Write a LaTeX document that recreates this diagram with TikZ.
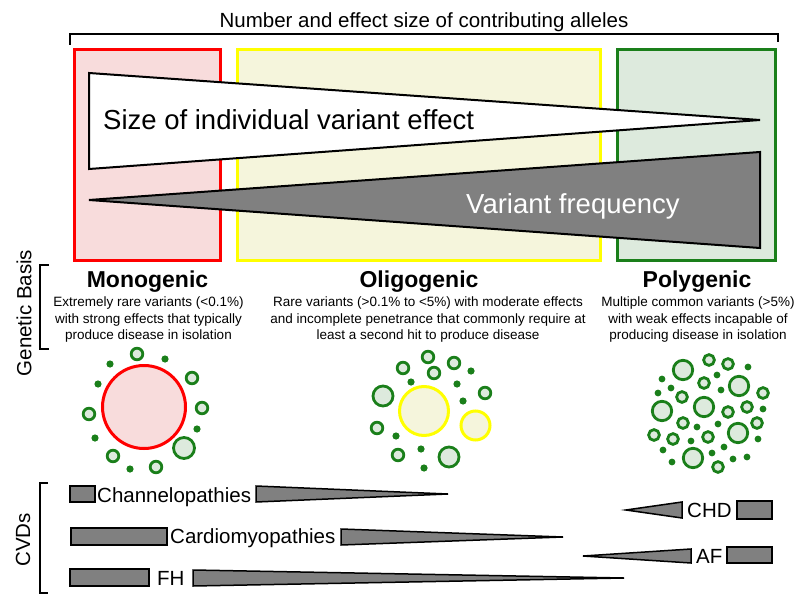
\documentclass[tikz,border=0pt]{standalone}
\usepackage{fontspec}
\setmainfont{Liberation Sans}
\usetikzlibrary{positioning}
\definecolor{Mc}{HTML}{FF0000}
\definecolor{Mf}{HTML}{F8DCDC}
\definecolor{Oc}{HTML}{FFFF00}
\definecolor{Of}{HTML}{F5F5DC}
\definecolor{Pc}{HTML}{1A7F1A}
\definecolor{Pf}{HTML}{DDEADD}
\definecolor{Wg}{HTML}{808080}
\tikzset{
  zone/.style={line width=3pt},
  bigwedge/.style={draw=black, line width=2pt, line join=miter},
  cvdbar/.style={draw=black, fill=Wg, line width=1.5pt},
  brack/.style={draw=black, line width=1.5pt},
  ring/.style={draw=Pc, fill=Pf, line width=2.8pt},
  seed/.style={fill=Pc},
  lbl/.style={inner sep=0pt, font=\fontsize{20.5}{24}\selectfont},
  big/.style={inner sep=0pt, font=\fontsize{27.5}{32}\selectfont},
  head/.style={inner sep=0pt, font=\fontsize{23}{26}\selectfont\bfseries},
  desc/.style={inner sep=0pt, align=center, font=\fontsize{13.5}{16.5}\selectfont},
}
\begin{document}
\begin{tikzpicture}[x=1pt, y=-1pt]
  \useasboundingbox (0,0) rectangle (800,615);
  % classes of genetic basis
  \draw[zone, draw=Mc, fill=Mf] (74,50) rectangle (220,260);
  \draw[zone, draw=Oc, fill=Of] (237,50) rectangle (600,260);
  \draw[zone, draw=Pc, fill=Pf] (617,50) rectangle (775,260);
  \draw[bigwedge, fill=white] (89,73) -- (89,169) -- (760,120) -- cycle;
  \draw[bigwedge, fill=Wg] (89,200) -- (760,152) -- (760,248) -- cycle;
  \node[big, anchor=base west] (effect) at (103,129) {Size of individual variant effect};
  \node[big, anchor=base west, text=white] (freq) at (466,213) {Variant frequency};
  \draw[brack] (70,45) -- (70,34) -- (778,34) -- (778,42);
  \node[lbl, anchor=base] (alleles) at (424,28) {Number and effect size of contributing alleles};
  % genetic basis
  \draw[brack] (49,265) -- (40,265) -- (40,349) -- (49,349);
  \node[lbl, rotate=90] (basis) at (24,313) {Genetic Basis};
  \node[head, anchor=base] (mono) at (147.5,287) {Monogenic};
  \node[head, anchor=base] (oligo) at (419,287) {Oligogenic};
  \node[head, anchor=base] (poly) at (697,287) {Polygenic};
  \node[desc, anchor=north] (monotxt) at (148.5,297) {Extremely rare variants (<0.1\%)\\with strong effects that typically\\produce disease in isolation};
  \node[desc, anchor=north] (oligotxt) at (428,297) {Rare variants (>0.1\% to <5\%) with moderate effects\\and incomplete penetrance that commonly require at\\least a second hit to produce disease};
  \node[desc, anchor=north] (polytxt) at (698,297) {Multiple common variants (>5\%)\\with weak effects incapable of\\producing disease in isolation};
  % monogenic cluster
  \draw[line width=3pt, draw=Mc, fill=Mf] (144,407) circle (41.5);
  \foreach \x/\y in {137/354,192/378,202/408,89/414,113/456,156/467}
    \draw[ring] (\x,\y) circle (5.8);
  \draw[ring] (184,448) circle (10.5);
  \foreach \x/\y in {110/364,165/359,98/384,197/429,95/438,130/469}
    \fill[seed] (\x,\y) circle (3.6);
  % oligogenic cluster
  \draw[line width=3pt, draw=Oc, fill=Of] (424,411) circle (24.5);
  \draw[line width=3pt, draw=Oc, fill=Of] (475.5,425.5) circle (14.5);
  \foreach \x/\y in {403/368,428/357,434/373,454/363,485/393,377/428,398/455}
    \draw[ring] (\x,\y) circle (5.8);
  \foreach \x/\y in {383/396,449/457}
    \draw[ring] (\x,\y) circle (10);
  \foreach \x/\y in {411/382,471/371,457/384,463/401,396/436,421/449,424/468}
    \fill[seed] (\x,\y) circle (3.6);
  % polygenic cluster
  \foreach \x/\y in {683/370,739/386,704/407,662/411,738/433,693/458}
    \draw[ring] (\x,\y) circle (9.7);
  \foreach \x/\y in {709/360,728/364,704/383,682/397,763/393,747/407,728/412,683/423,757/423,654/435,673/439,708/437,718/467}
    \draw[ring] (\x,\y) circle (5.4);
  \foreach \x/\y in {662/379,671/388,658/393,717/375,748/367,721/390,763/409,697/427,718/424,691/441,758/439,663/450,724/447,672/462,712/453,733/459,747/457}
    \fill[seed] (\x,\y) circle (3.4);
  % CVDs
  \draw[brack] (48,483) -- (40,483) -- (40,593) -- (48,593);
  \node[lbl, rotate=90] (cvds) at (23,540) {CVDs};
  \draw[cvdbar] (70,486) rectangle (95,502);
  \node[lbl, anchor=base west] (chan) at (97,502) {Channelopathies};
  \draw[cvdbar] (256,486) -- (256,502) -- (448,494) -- cycle;
  \draw[cvdbar] (71,528) rectangle (167,545);
  \node[lbl, anchor=base west] (cardio) at (170,543) {Cardiomyopathies};
  \draw[cvdbar] (341,529) -- (341,545) -- (563,537) -- cycle;
  \draw[cvdbar] (70,569) rectangle (149,586);
  \node[lbl, anchor=base west] (fh) at (157,585) {FH};
  \draw[cvdbar] (193,570) -- (193,586) -- (624,578) -- cycle;
  \draw[cvdbar] (626,510) -- (682,502) -- (682,518) -- cycle;
  \node[lbl, anchor=base west] (chd) at (687,517) {CHD};
  \draw[cvdbar] (737,501) rectangle (772,519);
  \draw[cvdbar] (583,556) -- (691,549) -- (691,563) -- cycle;
  \node[lbl, anchor=base west] (af) at (696,563) {AF};
  \draw[cvdbar] (727,547) rectangle (772,563);
\end{tikzpicture}
\end{document}
